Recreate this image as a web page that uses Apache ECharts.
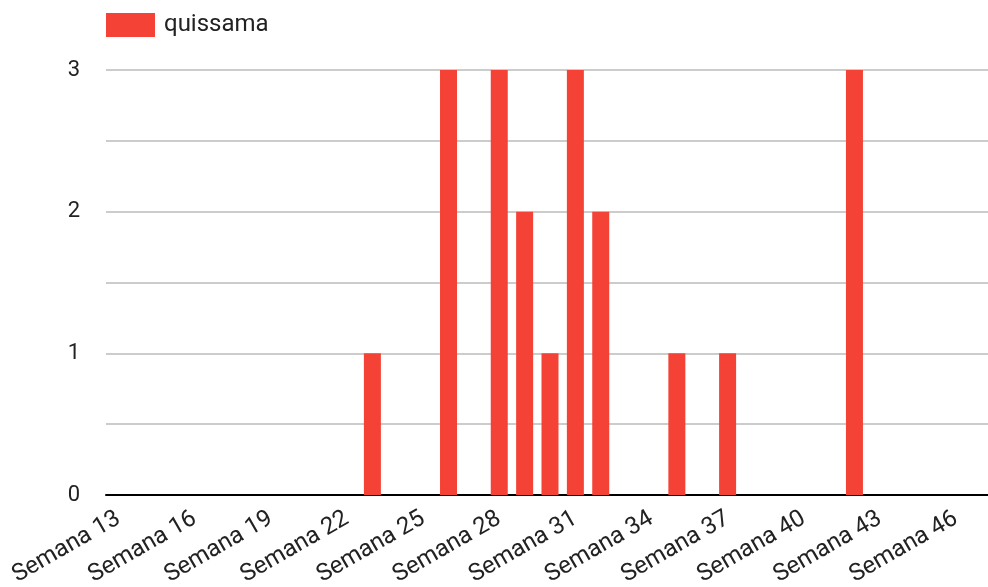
<!DOCTYPE html>
<html><head><meta charset="utf-8">
<script src="https://cdn.jsdelivr.net/npm/echarts@6/dist/echarts.min.js"></script>
<style>html,body{margin:0;padding:0;background:#fff}#c{width:988px;height:587px}</style>
</head><body><div id="c"></div>
<script>
const categories = ["Semana 13","Semana 14","Semana 15","Semana 16","Semana 17","Semana 18","Semana 19","Semana 20","Semana 21","Semana 22","Semana 23","Semana 24","Semana 25","Semana 26","Semana 27","Semana 28","Semana 29","Semana 30","Semana 31","Semana 32","Semana 33","Semana 34","Semana 35","Semana 36","Semana 37","Semana 38","Semana 39","Semana 40","Semana 41","Semana 42","Semana 43","Semana 44","Semana 45","Semana 46","Semana 47"];
const seriesName = "quissama";
const values = [0,0,0,0,0,0,0,0,0,0,1,0,0,3,0,3,2,1,3,2,0,0,1,0,1,0,0,0,0,3,0,0,0,0,0];
const yTicks = [0,1,2,3];

const chart = echarts.init(document.getElementById('c'), null, {renderer:'canvas'});
chart.setOption({
  animation:false,
  textStyle:{fontFamily:'Roboto'},
  legend:{left:101, top:8, itemWidth:49, itemHeight:24, itemGap:10,
    icon:'rect',
    textStyle:{fontSize:24, color:'#222', fontFamily:'Roboto', padding:[0,0,0,4]},
    data:[seriesName]},
  grid:{left:106, width:888, top:70, bottom:92, containLabel:false, outerBoundsMode:'none'},
  xAxis:{type:'category', data:categories,
    axisLine:{lineStyle:{color:'#000', width:2}},
    axisTick:{show:false},
    axisLabel:{interval:2, rotate:30, fontSize:24, color:'#222', margin:22, fontFamily:'Roboto'}},
  yAxis:{type:'value', min:0, max:3, interval:0.5,
    axisLine:{show:false}, axisTick:{show:false},
    splitLine:{lineStyle:{color:'#cccccc', width:2}},
    axisLabel:{fontSize:22, color:'#222', margin:26, fontFamily:'Roboto',
      formatter:v=> yTicks.includes(v)? String(v):''}},
  series:[{name:seriesName, type:'bar', data:values, barCategoryGap:'33%',
    itemStyle:{color:'#f44336'}}]
});
</script></body></html>
